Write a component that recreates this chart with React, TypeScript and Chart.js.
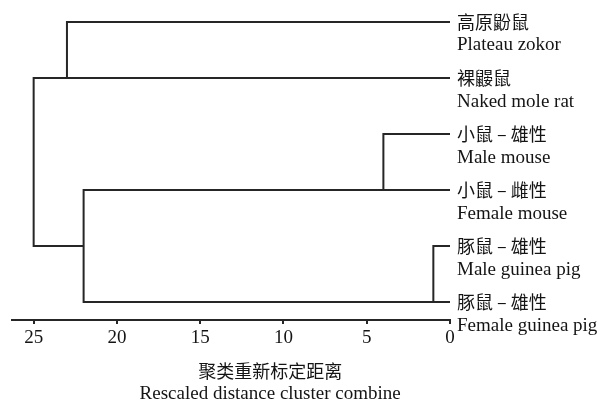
import React, { useEffect, useRef } from "react";
import { Chart, registerables } from "chart.js";

Chart.register(...registerables);

// Leaves (top to bottom)
const rowCn = ["高原鼢鼠", "裸鼹鼠", "小鼠 – 雄性", "小鼠 – 雌性", "豚鼠 – 雄性", "豚鼠 – 雄性"];
const rowEn = ["Plateau zokor", "Naked mole rat", "Male mouse", "Female mouse", "Male guinea pig", "Female guinea pig"];

// Links (rescaled distance at which clusters combine)
const linkHeight = [1, 4, 22, 23, 25];
const linkTopRow = [4, 2, 3, 0, 1];
const linkBottomRow = [5, 3, 5, 1, 4];
const linkTopFrom = [0, 0, 4, 0, 23];
const linkBottomFrom = [0, 0, 1, 0, 22];

const tickValues = [25, 20, 15, 10, 5, 0];
const axisTitleCn = "聚类重新标定距离";
const axisTitleEn = "Rescaled distance cluster combine";

const SERIF = '"Liberation Serif", "Times New Roman", serif';
const CJK = '"Noto Sans CJK SC", sans-serif';
const LINE = "#262626";
const TEXT = "#141414";

const labelPlugin = {
  id: "dendroLabels",
  afterDraw(chart: any) {
    const ctx = chart.ctx;
    const xs = chart.scales.x;
    const ys = chart.scales.y;
    const x0 = xs.getPixelForValue(0) + 7;
    ctx.save();
    ctx.fillStyle = TEXT;
    ctx.textAlign = "left";
    ctx.textBaseline = "middle";
    rowCn.forEach((cn, i) => {
      const y = ys.getPixelForValue(i);
      ctx.font = `18px ${CJK}`;
      ctx.fillText(cn, x0, y);
      ctx.font = `19px ${SERIF}`;
      ctx.fillText(rowEn[i], x0, y + 23.5);
    });
    // axis title
    const cx = xs.getPixelForValue(10.8);
    ctx.textAlign = "center";
    ctx.font = `18px ${CJK}`;
    ctx.fillText(axisTitleCn, cx, 371);
    ctx.font = `19px ${SERIF}`;
    ctx.fillText(axisTitleEn, cx, 394);
    ctx.restore();
  },
};

export default function App() {
  const ref = useRef<HTMLCanvasElement | null>(null);

  useEffect(() => {
    if (!ref.current) return;
    const datasets = linkHeight.map((h, i) => ({
      data: [
        { x: linkTopFrom[i], y: linkTopRow[i] },
        { x: h, y: linkTopRow[i] },
        { x: h, y: linkBottomRow[i] },
        { x: linkBottomFrom[i], y: linkBottomRow[i] },
      ],
      showLine: true,
      borderColor: LINE,
      borderWidth: 2,
      pointRadius: 0,
      pointHoverRadius: 0,
      fill: false,
      tension: 0,
      clip: false as any,
      borderJoinStyle: "miter" as const,
    }));

    const chart = new Chart(ref.current, {
      type: "scatter",
      data: { datasets },
      options: {
        animation: false,
        responsive: false,
        events: [],
        layout: { padding: { left: 12, right: 161, top: 8, bottom: 0 } },
        plugins: { legend: { display: false }, tooltip: { enabled: false } },
        scales: {
          x: {
            type: "linear",
            reverse: true,
            min: 0,
            max: 26.3,
            position: "bottom",
            afterBuildTicks: (scale: any) => {
              scale.ticks = tickValues.map((v) => ({ value: v }));
            },
            afterFit: (scale: any) => {
              scale.height = 87;
            },
            grid: {
              drawOnChartArea: false,
              drawTicks: true,
              tickLength: 4,
              color: LINE,
              lineWidth: 2,
            },
            border: { display: true, color: LINE, width: 2 },
            ticks: {
              color: TEXT,
              font: { family: SERIF, size: 19 },
              padding: 3,
              maxRotation: 0,
              autoSkip: false,
            },
          },
          y: {
            type: "linear",
            display: false,
            reverse: true,
            min: -0.25,
            max: 5.32,
          },
        },
      },
      plugins: [labelPlugin],
    });
    return () => chart.destroy();
  }, []);

  return (
    <div style={{ position: "fixed", left: 0, top: 0, width: 611, height: 407, background: "#fff" }}>
      <canvas ref={ref} width={611} height={407} style={{ display: "block" }} />
    </div>
  );
}
